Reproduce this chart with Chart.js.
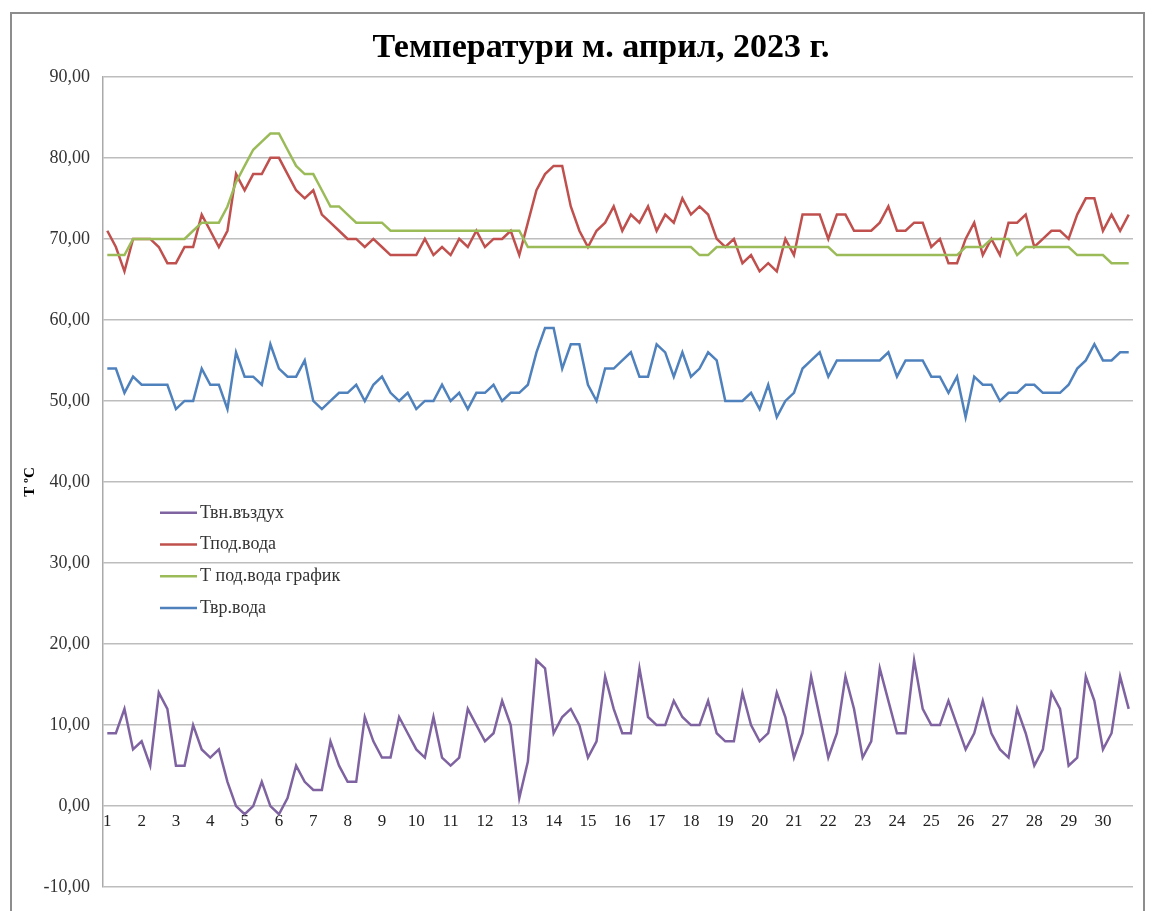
<!DOCTYPE html>
<html>
<head>
<meta charset="utf-8">
<script src="https://cdn.jsdelivr.net/npm/chart.js@4.4.0/dist/chart.umd.min.js"></script>
<style>
  body { margin: 0; background: #fff; }
  #frame { position: absolute; left: 10px; top: 12px; width: 1135px; height: 940px; border: 2px solid #8d8d8d; box-sizing: border-box; }
  #myChart { position: absolute; left: 0; top: 0; }
</style>
</head>
<body>
<div id="frame"></div>
<canvas id="myChart" width="1154" height="911"></canvas>
<script>
const days = [1, 2, 3, 4, 5, 6, 7, 8, 9, 10, 11, 12, 13, 14, 15, 16, 17, 18, 19, 20, 21, 22, 23, 24, 25, 26, 27, 28, 29, 30];
const readingsPerDay = 4;

// Твн.въздух
const airTemp = [9, 9, 12, 7, 8, 5, 14, 12, 5, 5,
  10, 7, 6, 7, 3, 0, -1, 0, 3, 0,
  -1, 1, 5, 3, 2, 2, 8, 5, 3, 3,
  11, 8, 6, 6, 11, 9, 7, 6, 11, 6,
  5, 6, 12, 10, 8, 9, 13, 10, 1, 5.5,
  18, 17, 9, 11, 12, 10, 6, 8, 16, 12,
  9, 9, 17, 11, 10, 10, 13, 11, 10, 10,
  13, 9, 8, 8, 14, 10, 8, 9, 14, 11,
  6, 9, 16, 11, 6, 9, 16, 12, 6, 8,
  17, 13, 9, 9, 18, 12, 10, 10, 13, 10,
  7, 9, 13, 9, 7, 6, 12, 9, 5, 7,
  14, 12, 5, 6, 16, 13, 7, 9, 16, 12];

// Тпод.вода
const supplyTemp = [71, 69, 66, 70, 70, 70, 69, 67, 67, 69,
  69, 73, 71, 69, 71, 78, 76, 78, 78, 80,
  80, 78, 76, 75, 76, 73, 72, 71, 70, 70,
  69, 70, 69, 68, 68, 68, 68, 70, 68, 69,
  68, 70, 69, 71, 69, 70, 70, 71, 68, 72,
  76, 78, 79, 79, 74, 71, 69, 71, 72, 74,
  71, 73, 72, 74, 71, 73, 72, 75, 73, 74,
  73, 70, 69, 70, 67, 68, 66, 67, 66, 70,
  68, 73, 73, 73, 70, 73, 73, 71, 71, 71,
  72, 74, 71, 71, 72, 72, 69, 70, 67, 67,
  70, 72, 68, 70, 68, 72, 72, 73, 69, 70,
  71, 71, 70, 73, 75, 75, 71, 73, 71, 73];

// Т под.вода график
const scheduleTemp = [68, 68, 68, 70, 70, 70, 70, 70, 70, 70,
  71, 72, 72, 72, 74, 77, 79, 81, 82, 83,
  83, 81, 79, 78, 78, 76, 74, 74, 73, 72,
  72, 72, 72, 71, 71, 71, 71, 71, 71, 71,
  71, 71, 71, 71, 71, 71, 71, 71, 71, 69,
  69, 69, 69, 69, 69, 69, 69, 69, 69, 69,
  69, 69, 69, 69, 69, 69, 69, 69, 69, 68,
  68, 69, 69, 69, 69, 69, 69, 69, 69, 69,
  69, 69, 69, 69, 69, 68, 68, 68, 68, 68,
  68, 68, 68, 68, 68, 68, 68, 68, 68, 68,
  69, 69, 69, 70, 70, 70, 68, 69, 69, 69,
  69, 69, 69, 68, 68, 68, 68, 67, 67, 67];

// Твр.вода
const returnTemp = [54, 54, 51, 53, 52, 52, 52, 52, 49, 50,
  50, 54, 52, 52, 49, 56, 53, 53, 52, 57,
  54, 53, 53, 55, 50, 49, 50, 51, 51, 52,
  50, 52, 53, 51, 50, 51, 49, 50, 50, 52,
  50, 51, 49, 51, 51, 52, 50, 51, 51, 52,
  56, 59, 59, 54, 57, 57, 52, 50, 54, 54,
  55, 56, 53, 53, 57, 56, 53, 56, 53, 54,
  56, 55, 50, 50, 50, 51, 49, 52, 48, 50,
  51, 54, 55, 56, 53, 55, 55, 55, 55, 55,
  55, 56, 53, 55, 55, 55, 53, 53, 51, 53,
  48, 53, 52, 52, 50, 51, 51, 52, 52, 51,
  51, 51, 52, 54, 55, 57, 55, 55, 56, 56];

const seriesNames = ["Твн.въздух", "Тпод.вода", "Т под.вода график", "Твр.вода"];
const seriesColors = ["#7f63a1", "#c0504d", "#9bbb59", "#4f81bd"];

const labels = [];
days.forEach((d) => {
  for (let k = 0; k < readingsPerDay; k++) labels.push(k === 0 ? String(d) : "");
});

const serif = "'Liberation Serif', 'Times New Roman', serif";

// legend drawn inside the plot, like the Excel original
const insideLegend = {
  id: "insideLegend",
  afterDatasetsDraw(chart) {
    const { ctx, chartArea } = chart;
    const x0 = chartArea.left + 57;
    const y0 = chartArea.top + 436;
    ctx.save();
    ctx.font = "18px " + serif;
    ctx.textBaseline = "middle";
    chart.data.datasets.forEach((ds, i) => {
      const y = y0 + i * 31.7;
      ctx.strokeStyle = ds.borderColor;
      ctx.lineWidth = 2.5;
      ctx.beginPath();
      ctx.moveTo(x0, y);
      ctx.lineTo(x0 + 37, y);
      ctx.stroke();
      ctx.fillStyle = "#333";
      ctx.fillText(ds.label, x0 + 40, y);
    });
    ctx.restore();
  },
};

const mkSet = (i, data) => ({
  label: seriesNames[i],
  data: data,
  borderColor: seriesColors[i],
  backgroundColor: seriesColors[i],
  borderWidth: 2.5,
  pointRadius: 0,
  tension: 0,
  order: 3 - i,
});

const ctx = document.getElementById("myChart");
new Chart(ctx, {
  type: "line",
  plugins: [insideLegend],
  data: {
    labels: labels,
    datasets: [
      mkSet(0, airTemp),
      mkSet(1, supplyTemp),
      mkSet(2, scheduleTemp),
      mkSet(3, returnTemp),
    ],
  },
  options: {
    responsive: false,
    animation: false,
    devicePixelRatio: 1,
    layout: { padding: { left: 0, right: 21, top: 0, bottom: 18 } },
    plugins: {
      legend: { display: false },
      tooltip: { enabled: false },
      title: {
        display: true,
        fullSize: false,
        // trailing spaces nudge the centred title a bit to the left, as in the original
        text: "Температури м. април, 2023 г.    ",
        color: "#000",
        font: { family: serif, size: 34, weight: "bold" },
        padding: { top: 28, bottom: 8 },
      },
    },
    scales: {
      x: {
        type: "category",
        offset: true,
        position: { y: 0 },
        grid: { display: false, drawTicks: false },
        border: { display: false },
        ticks: {
          autoSkip: false,
          maxRotation: 0,
          minRotation: 0,
          padding: 5,
          color: "#222",
          font: { family: serif, size: 17 },
        },
        afterFit: (scale) => { scale.height = 0; },
      },
      y: {
        min: -10,
        max: 90,
        ticks: {
          stepSize: 10,
          padding: 13,
          color: "#333",
          font: { family: serif, size: 18 },
          callback: (v) => v.toFixed(2).replace(".", ","),
        },
        grid: { color: "#bdbdbd", lineWidth: 1.5, drawTicks: false },
        border: { display: true, color: "#aaaaaa", width: 1.5 },
        title: {
          display: true,
          text: "T ºC",
          color: "#000",
          font: { family: serif, size: 15, weight: "bold" },
          padding: { top: 21, bottom: 0 },
        },
        afterFit: (scale) => { scale.width = 103; },
      },
    },
  },
});
</script>
</body>
</html>
